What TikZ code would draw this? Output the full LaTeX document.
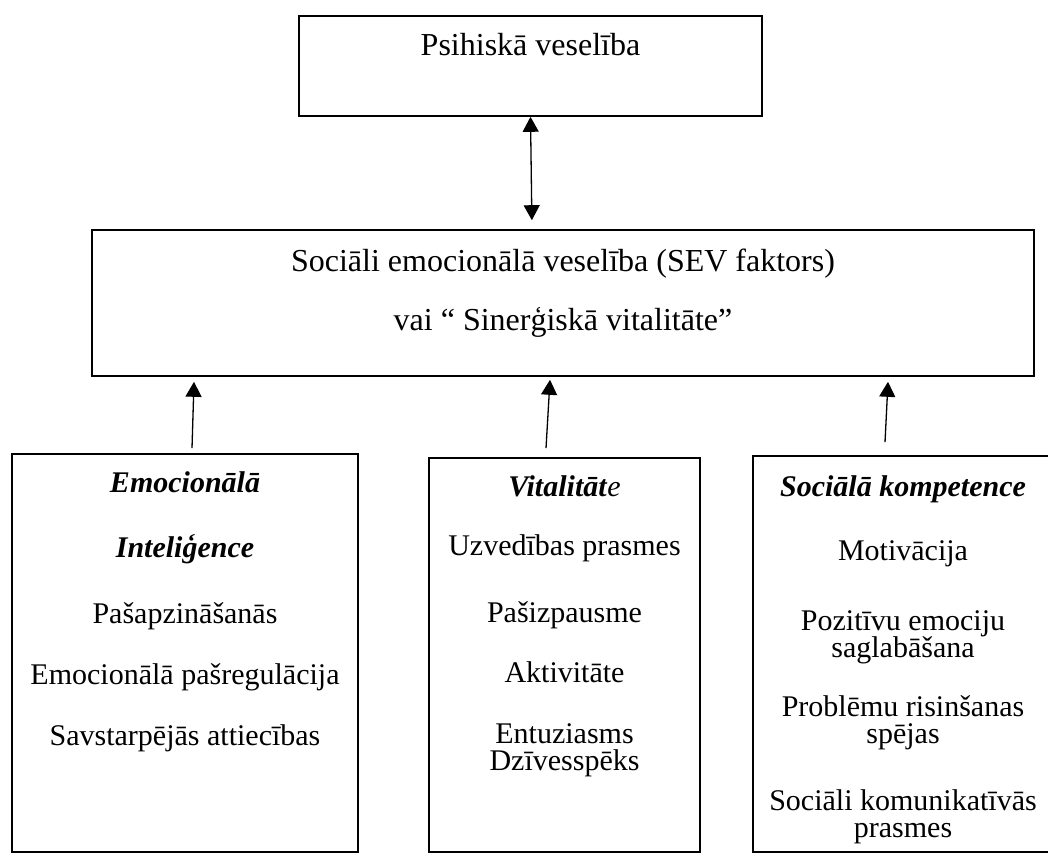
\documentclass[tikz,border=0pt]{standalone}
\usepackage{fontspec}
\setmainfont{Liberation Serif}
\usetikzlibrary{arrows.meta,calc}
\begin{document}
\begin{tikzpicture}[x=1pt,y=-1pt,
  box/.style={draw=black, line width=1.6pt, inner sep=0pt, rectangle},
  txt/.style={anchor=base, inner sep=0pt, font=\fontsize{32}{38}\selectfont},
  stxt/.style={anchor=base, inner sep=0pt, align=center, font=\fontsize{30}{27.5}\selectfont},
  head/.style={stxt, font=\fontsize{30}{27.5}\selectfont\bfseries\itshape},
  uparrow/.style={line width=1.3pt, -{Triangle[length=15pt,width=16pt]}},
  dblarrow/.style={line width=1.3pt, {Triangle[length=15pt,width=16pt]}-{Triangle[length=15pt,width=16pt]}}
]
\useasboundingbox (0,0) rectangle (1048,852);
\fill[white] (0,0) rectangle (1048,852);

% boxes
\node[box, minimum width=463pt, minimum height=100pt] (top) at (530.5,66) {};
\node[box, minimum width=942pt, minimum height=146pt] (mid) at (563,303) {};
\node[box, minimum width=346pt, minimum height=398pt] (lb) at (185,653) {};
\node[box, minimum width=271pt, minimum height=394pt] (cb) at (564.5,655) {};
\node[box, minimum width=300pt, minimum height=396pt] (rb) at (903,654) {};

% top text
\node[txt] (t1) at (530.5,55) {Psihiskā veselība};
% middle text
\node[txt] (m1) at (563,271) {Sociāli emocionālā veselība (SEV faktors)};
\node[txt] (m2) at (563,330) {vai “ Sinerģiskā vitalitāte”};

% left box text
\node[head] (l1) at (185,492) {Emocionālā};
\node[head] (l2) at (185,557) {Inteliģence};
\node[stxt] (l3) at (185,623) {Pašapzināšanās};
\node[stxt] (l4) at (185,684) {Emocionālā pašregulācija};
\node[stxt] (l5) at (185,745) {Savstarpējās attiecības};

% centre box text (base anchor = last line)
\node[stxt] (c1) at (564.5,496) {\textbf{\textit{Vitalitāt}}\textit{e}};
\node[stxt] (c2) at (564.5,555) {Uzvedības prasmes};
\node[stxt] (c3) at (564.5,622) {Pašizpausme};
\node[stxt] (c4) at (564.5,682) {Aktivitāte};
\node[stxt] (c5) at (564.5,770.5) {Entuziasms\\Dzīvesspēks};

% right box text
\node[head] (r1) at (903,496) {Sociālā kompetence};
\node[stxt] (r2) at (903,560) {Motivācija};
\node[stxt] (r3) at (903,657.5) {Pozitīvu emociju\\saglabāšana};
\node[stxt] (r5) at (903,743.5) {Problēmu risinšanas\\spējas};
\node[stxt] (r7) at (903,837.5) {Sociāli komunikatīvās\\prasmes};

% connectors
\draw[dblarrow, shorten >=9pt] (top.south) -- ($(top.south |- mid.north)+(1.5,0)$);

\coordinate (a1) at ($(lb.north)+(7,-5)$);
\draw[uparrow] (a1) -- ($(a1 |- mid.south)+(2,5)$);
\coordinate (a2) at ($(cb.north)+(-18.5,-9)$);
\draw[uparrow] (a2) -- ($(a2 |- mid.south)+(4,3)$);
\coordinate (a3) at ($(rb.north)+(-18,-13)$);
\draw[uparrow] (a3) -- ($(a3 |- mid.south)+(3,5)$);
\end{tikzpicture}
\end{document}
